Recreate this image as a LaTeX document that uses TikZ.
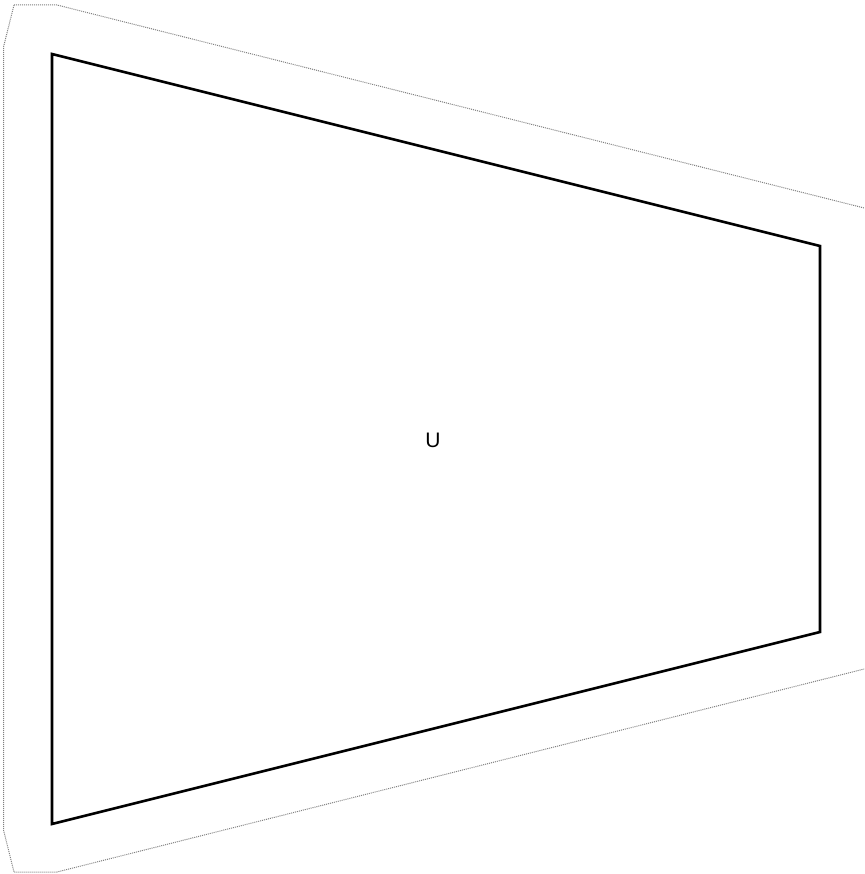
\documentclass[tikz,border=0pt]{standalone}
\usepackage{fontspec}
\setmainfont{Liberation Sans}
\begin{document}
\begin{tikzpicture}[x=1pt,y=-1pt,
  outerline/.style={draw=gray, line width=1pt, densely dotted},
  innerline/.style={draw=black, line width=2.6pt, line join=miter},
  lbl/.style={font=\fontsize{21}{25}\selectfont, inner sep=0pt}]
\useasboundingbox (0,0) rectangle (864,874);
\clip (0,0) rectangle (864,874);
\draw[outerline] (14,5) -- (57,5) -- (900,217) -- (900,660) -- (57,872) -- (14,872) -- (3.5,830) -- (3.5,47) -- cycle;
\coordinate (a) at (52,54);
\coordinate (b) at (820,246);
\coordinate (c) at (820,632);
\coordinate (d) at (52,824);
\draw[innerline] (a) -- (b) -- (c) -- (d) -- cycle;
\node[lbl] (u) at (433,440) {U};
\end{tikzpicture}
\end{document}
